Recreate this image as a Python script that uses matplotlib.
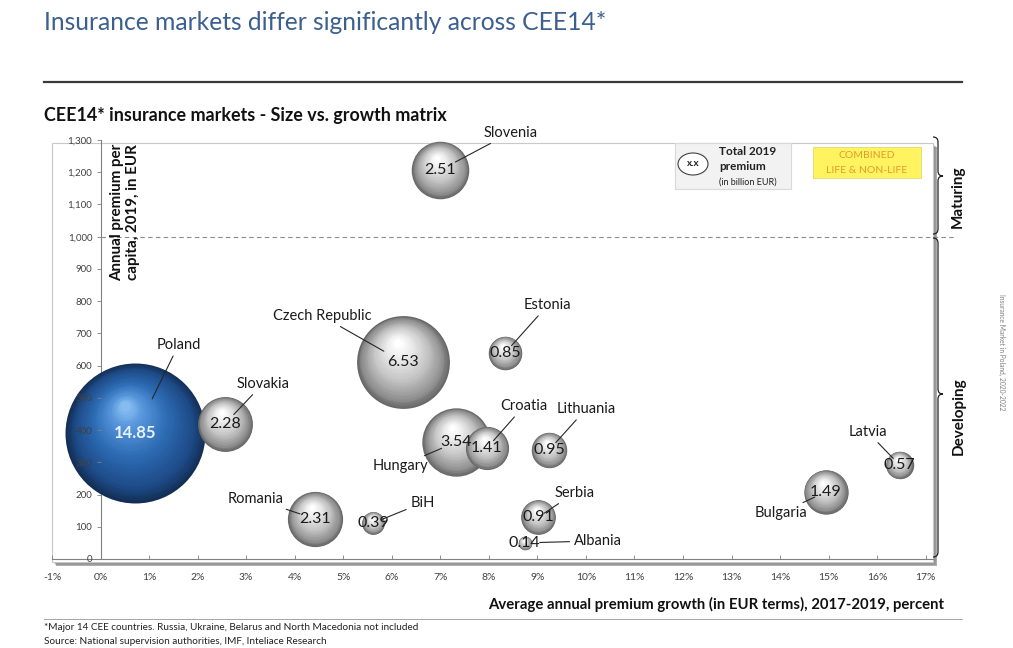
import numpy as np
import matplotlib
matplotlib.use("Agg")
import matplotlib.pyplot as plt
from matplotlib import transforms
from matplotlib.patches import Rectangle, Ellipse, PathPatch
from matplotlib.path import Path
from matplotlib.colors import LinearSegmentedColormap

# ---------------- data ----------------
countries = ["Poland", "Czech Republic", "Hungary", "Slovenia", "Romania", "Slovakia",
             "Bulgaria", "Croatia", "Lithuania", "Serbia", "Estonia", "Latvia", "BiH", "Albania"]
growth_pct = [0.72, 6.23, 7.33, 7.00, 4.42, 2.56, 14.94, 7.96, 9.24, 9.02, 8.33, 16.46, 5.62, 8.74]
premium_per_capita = [391, 611, 363, 1207, 124, 419, 208, 344, 338, 130, 639, 292, 112, 50]
total_premium_bn = [14.85, 6.53, 3.54, 2.51, 2.31, 2.28, 1.49, 1.41, 0.95, 0.91, 0.85, 0.57, 0.39, 0.14]
value_labels = ["14.85", "6.53", "3.54", "2.51", "2.31", "2.28", "1.49", "1.41", "0.95", "0.91",
                "0.85", "0.57", "0.39", "0.14"]
x_ticks = list(range(-1, 18))
x_tick_labels = [f"{v}%" for v in x_ticks]
y_ticks = list(range(0, 1301, 100))
y_tick_labels = [f"{v:,}" for v in y_ticks]
maturity_threshold = 1000

# label layout (pixel offsets of country label from bubble centre, y down; leader end distance px)
label_dx = [43, -81, -56, 70, -59, 38, -45, 37, 37, 36, 43, -32, 49, 73]
label_dy = [-88, -46, 24, -37, -20, -40, 21, -42, -41, -24, -48, -33, -20, -2]
leader_gap = [38, 22, 16, 17, 16, 13, 12, 10, 10, 7, 10, 9, 9, 15]

W, H = 1013, 648
plt.rcParams['font.family'] = ['Lato', 'DejaVu Sans']
fig = plt.figure(figsize=(W / 100, H / 100), dpi=100)
PX = transforms.Affine2D().scale(1 / W, -1 / H).translate(0, 1) + fig.transFigure
PT = 72 / 100  # points per pixel

# ---------------- header ----------------
fig.text(44 / W, 1 - 22 / H, "Insurance markets differ significantly across CEE14*",
         fontsize=17.7, color="#3b5f8f", va="center", ha="left")
fig.add_artist(plt.Line2D([44, 962], [82, 82], transform=PX, color="#3a3a3a", lw=1.6))
fig.text(44 / W, 1 - 116 / H, "CEE14* insurance markets - Size vs. growth matrix",
         fontsize=12.9, fontweight="bold", color="#111111", va="center", ha="left")

# ---------------- plot frame with shadow ----------------
for k, (a, c) in enumerate([(0.3, "#9a9a9a"), (0.45, "#8a8a8a"), (0.6, "#7a7a7a")]):
    fig.add_artist(Rectangle((52 + 1.5 + k, 143 + 1.5 + k), 881, 419, transform=PX,
                             facecolor=c, edgecolor="none", alpha=a, zorder=0))
fig.add_artist(Rectangle((52, 143), 881, 419, transform=PX, facecolor="white",
                         edgecolor="#c8c8c8", lw=0.8, zorder=0.5))

# ---------------- axes ----------------
ax = fig.add_axes([52 / W, 1 - 559 / H, 881 / W, 419 / H])
ax.set_zorder(2)
ax.set_facecolor("none")
ax.set_xlim(-1, 17.15)
ax.set_ylim(0, 1300)
for s in ["top", "right"]:
    ax.spines[s].set_visible(False)
ax.spines["left"].set_position(("data", 0))
ax.spines["left"].set_color("#808080")
ax.spines["bottom"].set_color("#808080")
ax.spines["left"].set_linewidth(0.8)
ax.spines["bottom"].set_linewidth(0.8)
ax.spines["left"].set_zorder(1)
ax.set_xticks(x_ticks)
ax.set_xticklabels(x_tick_labels)
ax.set_yticks(y_ticks)
ax.set_yticklabels(y_tick_labels)
ax.yaxis.set_zorder(20)
ax.tick_params(axis="x", direction="in", length=3, width=0.6, color="#808080", pad=10,
               labelsize=7.5, labelcolor="#404040")
ax.tick_params(axis="y", direction="out", length=3, width=0.6, color="#808080", pad=3,
               labelsize=7, labelcolor="#404040")

# dashed maturity threshold
ax.plot([0, 17.6], [maturity_threshold, maturity_threshold], ls=(0, (4, 3)), color="#8c8c8c",
        lw=0.8, clip_on=False, zorder=1)

# ---------------- bubbles ----------------
gray_cmap = LinearSegmentedColormap.from_list(
    "g", [(0, "#666666"), (0.12, "#8e8e8e"), (0.45, "#c6c6c6"), (0.8, "#eeeeee"), (1, "#ffffff")])
blue_cmap = LinearSegmentedColormap.from_list(
    "b", [(0, "#142f57"), (0.15, "#1d4a86"), (0.5, "#2d6bb3"), (0.82, "#5796db"), (1, "#86bdf0")])

size_scale = 684.0  # points^2 per billion EUR
N = 36
for i, (c, x, y, v) in enumerate(zip(countries, growth_pct, premium_per_capita, total_premium_bn)):
    s = v * size_scale
    r = np.sqrt(s) / 2
    cmap = blue_cmap if c == "Poland" else gray_cmap
    hx, hy = (-0.15, 0.38) if c == "Poland" else (-0.12, 0.42)
    for j in range(N):
        t = j / (N - 1)
        f = 1 - 0.93 * t
        tr = transforms.offset_copy(ax.transData, fig=fig, x=hx * r * t, y=hy * r * t, units="points")
        ax.scatter([x], [y], s=s * f * f, color=cmap(t), transform=tr, linewidths=0, zorder=3)

# value labels
for c, x, y, lab in zip(countries, growth_pct, premium_per_capita, value_labels):
    if c == "Poland":
        ax.text(x, y, lab, ha="center", va="center", fontsize=12, fontweight="bold",
                color="#e8f2ff", zorder=10)
    else:
        ax.text(x, y, lab, ha="center", va="center", fontsize=11.5, color="#1a1a1a", zorder=10)

# country labels with leaders
for c, x, y, dx, dy, g in zip(countries, growth_pct, premium_per_capita, label_dx, label_dy, leader_gap):
    ax.annotate(c, xy=(x, y), xytext=(dx * PT, -dy * PT), textcoords="offset points",
                ha="center", va="center", fontsize=10.5, color="#1a1a1a", zorder=11,
                arrowprops=dict(arrowstyle="-", color="#262626", lw=0.8, shrinkA=1, shrinkB=g * PT))

# y-axis title inside plot
fig.text(125 / W, 1 - 212 / H, "Annual premium per\ncapita, 2019, in EUR", rotation=90,
         ha="center", va="center", fontsize=10.9, fontweight="bold", color="#111111",
         linespacing=1.25, zorder=5)

# ---------------- legend boxes ----------------
fig.add_artist(Rectangle((675, 143), 116, 46, transform=PX, facecolor="#f2f2f2",
                         edgecolor="#d9d9d9", lw=0.8, zorder=5))
fig.add_artist(Ellipse((693, 164), 30, 22, transform=PX, facecolor="white",
                       edgecolor="#404040", lw=0.8, zorder=6))
fig.text(693 / W, 1 - 164 / H, "x.x", ha="center", va="center", fontsize=7,
         fontweight="bold", color="#222222", zorder=7)
fig.text(719 / W, 1 - 152 / H, "Total 2019", ha="left", va="center", fontsize=8.5,
         fontweight="bold", color="#222222", zorder=7)
fig.text(719 / W, 1 - 167 / H, "premium", ha="left", va="center", fontsize=8.5,
         fontweight="bold", color="#222222", zorder=7)
fig.text(719 / W, 1 - 182 / H, "(in billion EUR)", ha="left", va="center", fontsize=6.5,
         color="#222222", zorder=7)

fig.add_artist(Rectangle((813, 147), 108, 31, transform=PX, facecolor="#fff45f",
                         edgecolor="#e0d870", lw=0.6, zorder=5))
fig.text(867 / W, 1 - 156 / H, "COMBINED", ha="center", va="center", fontsize=7.5,
         color="#e39a2e", zorder=7)
fig.text(867 / W, 1 - 170 / H, "LIFE & NON-LIFE", ha="center", va="center", fontsize=7.5,
         color="#e39a2e", zorder=7)


# ---------------- braces ----------------
def brace(x0, y0, y1, w, ytip):
    q = 5
    verts = [(x0, y0), (x0 + w * 0.5, y0), (x0 + w * 0.5, y0 + q),
             (x0 + w * 0.5, ytip - q),
             (x0 + w * 0.5, ytip), (x0 + w, ytip),
             (x0 + w * 0.5, ytip), (x0 + w * 0.5, ytip + q),
             (x0 + w * 0.5, y1 - q),
             (x0 + w * 0.5, y1), (x0, y1)]
    codes = [Path.MOVETO, Path.CURVE3, Path.CURVE3, Path.LINETO, Path.CURVE3, Path.CURVE3,
             Path.CURVE3, Path.CURVE3, Path.LINETO, Path.CURVE3, Path.CURVE3]
    fig.add_artist(PathPatch(Path(verts, codes), transform=PX, facecolor="none",
                             edgecolor="#222222", lw=0.9, zorder=5))


brace(933, 137, 234, 10, 176)
brace(933, 238, 557, 10, 394)
fig.text(958 / W, 1 - 197 / H, "Maturing", rotation=90, ha="center", va="center",
         fontsize=11, fontweight="bold", color="#111111")
fig.text(959 / W, 1 - 416 / H, "Developing", rotation=90, ha="center", va="center",
         fontsize=11, fontweight="bold", color="#111111")
fig.text(1002 / W, 1 - 352 / H, "Insurance Market in Poland, 2020-2022", rotation=-90,
         ha="center", va="center", fontsize=4.8, color="#7f7f7f")

# ---------------- footer ----------------
fig.text(944 / W, 1 - 604 / H, "Average annual premium growth (in EUR terms), 2017-2019, percent",
         ha="right", va="center", fontsize=10.7, fontweight="bold", color="#111111")
fig.add_artist(plt.Line2D([44, 962], [619, 619], transform=PX, color="#a6a6a6", lw=0.7))
fig.text(44 / W, 1 - 627 / H,
         "*Major 14 CEE countries. Russia, Ukraine, Belarus and North Macedonia not included",
         ha="left", va="center", fontsize=7.2, color="#222222")
fig.text(44 / W, 1 - 641 / H, "Source: National supervision authorities, IMF, Inteliace Research",
         ha="left", va="center", fontsize=7.2, color="#222222")

fig.savefig("out.png", dpi=100)
